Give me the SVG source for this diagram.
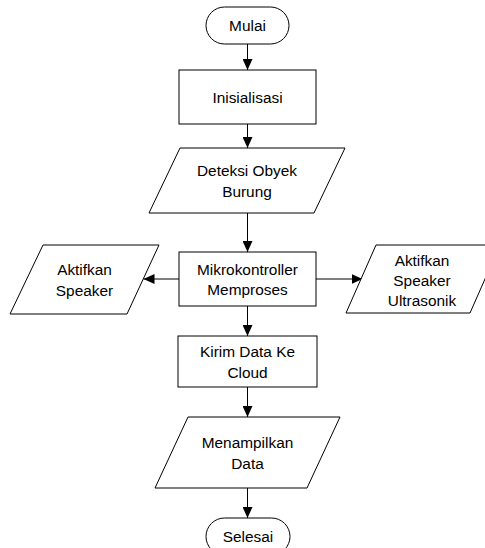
<svg xmlns="http://www.w3.org/2000/svg" width="485" height="548" viewBox="0 0 485 548">
<style>
.s{fill:#fff;stroke:#000;stroke-width:1}
.t{font-family:"Liberation Sans",Arial,sans-serif;font-size:15.4px;fill:#000;text-anchor:middle}
.c{stroke:#000;stroke-width:1;fill:none}
</style>
<defs>
<marker id="ah" markerWidth="11" markerHeight="10" refX="11" refY="5" orient="auto" markerUnits="userSpaceOnUse">
<path d="M0,0 L11,5 L0,10 Z" fill="#000"/>
</marker>
</defs>
<rect width="485" height="548" fill="#fff"/>
<g id="connectors">
<line class="c" x1="247.5" y1="44" x2="247.5" y2="70" marker-end="url(#ah)"/>
<line class="c" x1="247.5" y1="124" x2="247.5" y2="148" marker-end="url(#ah)"/>
<line class="c" x1="247.5" y1="213" x2="247.5" y2="252" marker-end="url(#ah)"/>
<line class="c" x1="179" y1="279" x2="143.5" y2="279" marker-end="url(#ah)"/>
<line class="c" x1="316" y1="279" x2="362.5" y2="279" marker-end="url(#ah)"/>
<line class="c" x1="247.5" y1="306" x2="247.5" y2="336" marker-end="url(#ah)"/>
<line class="c" x1="247.5" y1="387" x2="247.5" y2="417" marker-end="url(#ah)"/>
<line class="c" x1="247.5" y1="488" x2="247.5" y2="518" marker-end="url(#ah)"/>
</g>
<g id="mulai">
<rect class="s" x="206" y="7" width="83" height="37" rx="18.5" ry="18.5"/>
<text class="t" x="247.5" y="31">Mulai</text>
</g>
<g id="inisialisasi">
<rect class="s" x="179" y="70" width="137" height="54"/>
<text class="t" x="247.5" y="102.5">Inisialisasi</text>
</g>
<g id="deteksi">
<polygon class="s" points="180,148 345,148 314,213 149,213"/>
<text class="t" x="247" y="176">Deteksi Obyek</text>
<text class="t" x="247" y="196.5">Burung</text>
</g>
<g id="mikrokontroller">
<rect class="s" x="179" y="252" width="137" height="54"/>
<text class="t" x="247.5" y="274.5">Mikrokontroller</text>
<text class="t" x="247.5" y="295">Memproses</text>
</g>
<g id="aktifkan-speaker">
<polygon class="s" points="43,245 159,245 127,314 10,314"/>
<text class="t" x="84.5" y="275">Aktifkan</text>
<text class="t" x="84.5" y="295.5">Speaker</text>
</g>
<g id="aktifkan-ultrasonik">
<polygon class="s" points="376,245 500,245 470,313 346,313"/>
<text class="t" x="422" y="266">Aktifkan</text>
<text class="t" x="422" y="286">Speaker</text>
<text class="t" x="422" y="306">Ultrasonik</text>
</g>
<g id="kirim">
<rect class="s" x="178" y="336" width="139" height="51"/>
<text class="t" x="247.5" y="357">Kirim Data Ke</text>
<text class="t" x="247.5" y="377.5">Cloud</text>
</g>
<g id="menampilkan">
<polygon class="s" points="188,417 340,417 307,488 155,488"/>
<text class="t" x="247.5" y="448">Menampilkan</text>
<text class="t" x="247.5" y="468.5">Data</text>
</g>
<g id="selesai">
<rect class="s" x="206" y="518" width="84" height="37" rx="18.5" ry="18.5"/>
<text class="t" x="248" y="542">Selesai</text>
</g>
</svg>
